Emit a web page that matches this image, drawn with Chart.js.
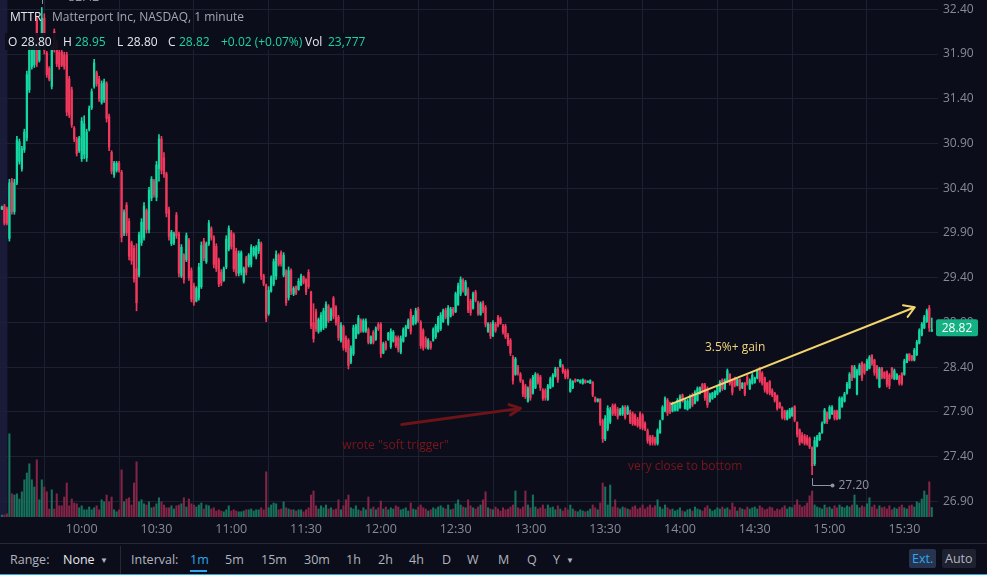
<!DOCTYPE html>
<html>
<head>
<meta charset="utf-8">
<script src="https://cdn.jsdelivr.net/npm/chart.js@4.4.1/dist/chart.umd.min.js"></script>
<style>
  html, body { margin: 0; padding: 0; background: #0b0e1a; overflow: hidden; }
  body { width: 987px; height: 575px; position: relative; font-family: 'Open Sans', sans-serif; }
  #chart { position: absolute; left: 0; top: 0; }
  .hdr span { position: absolute; font-size: 12px; white-space: nowrap; line-height: 18px; color: #e6e8ee; }
  .hdr1 span { top: 8px; }
  .hdr1 .desc { color: #a3a6b4; }
  .hdr2 span { top: 33px; }
  .hdr2 .g { color: #1fd3a3; }
  .hdr2 .bg { left: 5px; width: 364px; height: 17px; top: 33px; background: rgba(11, 14, 26, 0.92); }
  .toolbar { position: absolute; left: 0; top: 543px; width: 987px; height: 32px; border-top: 1px solid #262a38; box-sizing: border-box; font-size: 12.5px; color: #b2b5be; }
  .toolbar span { position: absolute; top: 7px; line-height: 18px; }
  .toolbar .sel { color: #2ea8f0; }
  .toolbar .w { color: #e6e8ee; }
  .toolbar .sep { position: absolute; left: 120px; top: 2px; width: 1px; height: 30px; background: #262a38; }
  .toolbar .ul { position: absolute; left: 190px; top: 26px; width: 17px; height: 2px; background: #2ea8f0; }
  .toolbar .btn { top: 5px; height: 19px; padding: 0 3px; border-radius: 2px; line-height: 19px; }
  .toolbar .bottom { position: absolute; left: 0; top: 30px; width: 987px; height: 2px; background: #2fa6d8; }
  .caret { font-size: 8px; }
</style>
</head>
<body>
<canvas id="chart" width="987" height="543"></canvas>

<div class="hdr hdr1">
  <span style="left:10px">MTTR</span>
  <span class="desc" style="left:52px">Matterport Inc, NASDAQ, 1 minute</span>
</div>
<div class="hdr hdr2">
  <span class="bg"></span>
  <span style="left:8px">O</span><span style="left:21px">28.80</span>
  <span style="left:63px">H</span><span class="g" style="left:75px">28.95</span>
  <span style="left:117px">L</span><span style="left:127px">28.80</span>
  <span style="left:168px">C</span><span class="g" style="left:179px">28.82</span>
  <span class="g" style="left:221px">+0.02 (+0.07%)</span>
  <span style="left:305px">Vol</span><span class="g" style="left:328px">23,777</span>
</div>

<div class="toolbar">
  <span style="left:10px">Range:</span>
  <span class="w" style="left:63px">None</span>
  <span class="caret" style="left:100px">&#9660;</span>
  <div class="sep"></div>
  <span style="left:131px">Interval:</span>
  <span class="sel" style="left:190px">1m</span>
  <div class="ul"></div>
  <span style="left:225px">5m</span>
  <span style="left:261px">15m</span>
  <span style="left:304px">30m</span>
  <span style="left:346px">1h</span>
  <span style="left:378px">2h</span>
  <span style="left:409px">4h</span>
  <span style="left:442px">D</span>
  <span style="left:467px">W</span>
  <span style="left:498px">M</span>
  <span style="left:527px">Q</span>
  <span style="left:553px">Y</span>
  <span class="caret" style="left:566px">&#9660;</span>
  <span class="btn sel" style="left:909px; background:#26344f">Ext.</span>
  <span class="btn" style="left:942px; background:#1d2130">Auto</span>
  <div class="bottom"></div>
</div>

<script>
// минуты от 9:30, первая свеча — 9:28 (премаркет)
const firstMinute = -2;
const sessionOpen = 0;

// ось времени
const tickMinutes = [30, 60, 90, 120, 150, 180, 210, 240, 270, 300, 330, 360];
const tickLabels = ['10:00', '10:30', '11:00', '11:30', '12:00', '12:30', '13:00', '13:30', '14:00', '14:30', '15:00', '15:30'];

// ось цены
const priceTicks = [26.9, 27.4, 27.9, 28.4, 28.9, 29.4, 29.9, 30.4, 30.9, 31.4, 31.9, 32.4];
const lastPrice = 28.82;

const opens = [
  30.17, 30.20, 30.17, 29.84, 30.48, 30.14, 30.46, 30.70, 30.62, 30.83,
  30.96, 31.50, 31.76, 31.78, 32.28, 31.83, 32.05, 32.30, 31.91, 31.74,
  31.54, 32.15, 32.02, 31.92, 31.92, 31.89, 31.89, 31.62, 31.50, 31.07,
  30.95, 30.82, 30.73, 30.78, 30.74, 31.06, 31.30, 31.54, 31.69, 31.62,
  31.36, 31.39, 31.57, 31.20, 30.80, 30.55, 30.60, 30.68, 30.58, 29.90,
  30.21, 30.03, 29.79, 29.73, 29.50, 29.43, 29.79, 29.85, 30.15, 29.94,
  30.29, 30.48, 30.30, 30.62, 30.95, 30.74, 30.56, 30.16, 29.78, 29.79,
  30.10, 29.89, 29.42, 29.65, 29.60, 29.82, 29.48, 29.31, 29.14, 29.18,
  29.30, 29.81, 29.58, 29.78, 29.95, 29.85, 29.75, 29.60, 29.46, 29.37,
  29.52, 29.72, 29.91, 29.88, 29.70, 29.45, 29.46, 29.36, 29.62, 29.54,
  29.55, 29.66, 29.64, 29.70, 29.78, 29.42, 29.31, 29.00, 29.25, 29.33,
  29.42, 29.65, 29.68, 29.43, 29.47, 29.18, 29.48, 29.22, 29.30, 29.27,
  29.32, 29.41, 29.38, 29.46, 29.24, 28.90, 29.02, 28.80, 28.82, 28.84,
  28.86, 29.08, 28.93, 29.17, 29.07, 28.96, 28.70, 28.85, 28.73, 28.70,
  28.46, 28.55, 28.73, 28.78, 28.92, 28.80, 28.81, 28.82, 28.67, 28.79,
  28.71, 28.88, 28.88, 28.56, 28.67, 28.71, 28.63, 28.69, 28.73, 28.73,
  28.57, 28.69, 28.75, 28.84, 29.02, 28.88, 28.90, 29.05, 28.90, 28.81,
  28.72, 28.61, 28.67, 28.70, 28.74, 28.80, 28.83, 28.91, 29.04, 28.89,
  28.97, 29.05, 29.02, 29.10, 29.22, 29.37, 29.21, 29.27, 29.14, 29.06,
  29.24, 29.12, 28.99, 29.12, 29.07, 28.80, 28.88, 28.75, 28.88, 28.96,
  28.94, 28.86, 28.86, 28.76, 28.70, 28.51, 28.32, 28.40, 28.32, 28.24,
  28.19, 28.02, 28.25, 28.11, 28.17, 28.31, 28.29, 28.14, 28.14, 28.04,
  28.17, 28.19, 28.30, 28.38, 28.41, 28.41, 28.36, 28.36, 28.13, 28.17,
  28.26, 28.25, 28.23, 28.22, 28.25, 28.23, 28.22, 28.23, 28.06, 28.02,
  28.04, 27.80, 27.60, 27.71, 27.79, 27.97, 27.97, 27.93, 27.87, 27.88,
  27.95, 27.88, 27.90, 27.88, 27.86, 27.82, 27.88, 27.86, 27.77, 27.69,
  27.62, 27.62, 27.60, 27.55, 27.67, 27.82, 27.91, 28.03, 28.00, 27.91,
  27.92, 27.92, 27.95, 28.09, 27.94, 27.93, 27.95, 28.09, 28.00, 28.03,
  28.11, 28.21, 28.20, 28.16, 28.02, 28.05, 28.07, 28.10, 28.13, 28.26,
  28.16, 28.24, 28.32, 28.26, 28.28, 28.20, 28.26, 28.17, 28.22, 28.29,
  28.16, 28.22, 28.23, 28.28, 28.39, 28.33, 28.28, 28.22, 28.24, 28.14,
  28.11, 28.08, 28.00, 27.95, 27.91, 27.82, 27.84, 27.86, 27.96, 27.78,
  27.70, 27.64, 27.63, 27.61, 27.60, 27.50, 27.32, 27.52, 27.59, 27.67,
  27.78, 27.89, 27.83, 27.88, 27.91, 27.91, 27.83, 27.96, 28.02, 28.11,
  28.17, 28.41, 28.29, 28.10, 28.32, 28.45, 28.43, 28.37, 28.39, 28.53,
  28.48, 28.41, 28.18, 28.39, 28.34, 28.35, 28.31, 28.39, 28.27, 28.27,
  28.30, 28.33, 28.32, 28.45, 28.55, 28.53, 28.48, 28.54, 28.67, 28.76,
  28.84, 28.91, 29.06, 28.80
];

const highs = [
  30.20, 30.22, 30.19, 30.50, 30.51, 30.50, 30.98, 30.95, 30.87, 31.06,
  31.71, 32.01, 32.01, 32.04, 32.32, 32.03, 32.42, 32.35, 31.93, 31.76,
  31.99, 32.18, 32.05, 31.95, 31.95, 31.92, 31.92, 31.65, 31.53, 31.09,
  30.97, 30.98, 31.19, 31.21, 31.06, 31.32, 31.51, 31.84, 31.71, 31.65,
  31.60, 31.62, 31.59, 31.23, 30.82, 30.70, 30.70, 30.70, 30.60, 30.16,
  30.24, 30.06, 29.81, 29.76, 29.78, 29.91, 30.06, 30.24, 30.17, 30.41,
  30.53, 30.50, 30.70, 31.00, 30.98, 30.80, 30.58, 30.19, 29.93, 29.91,
  30.13, 29.91, 29.77, 29.67, 29.90, 29.84, 29.51, 29.34, 29.30, 29.56,
  29.80, 29.84, 29.80, 30.04, 29.97, 29.87, 29.78, 29.62, 29.49, 29.52,
  29.87, 29.98, 29.93, 29.90, 29.73, 29.70, 29.70, 29.52, 29.64, 29.67,
  29.77, 29.75, 29.76, 29.83, 29.80, 29.44, 29.33, 29.30, 29.42, 29.61,
  29.70, 29.67, 29.70, 29.68, 29.49, 29.52, 29.50, 29.30, 29.31, 29.39,
  29.44, 29.42, 29.39, 29.49, 29.25, 29.11, 29.05, 28.95, 29.01, 29.06,
  29.13, 29.10, 29.06, 29.19, 29.09, 28.98, 28.90, 28.87, 28.75, 28.72,
  28.64, 28.87, 28.88, 28.98, 28.94, 28.94, 28.94, 28.84, 28.75, 28.81,
  28.85, 28.90, 28.90, 28.68, 28.69, 28.79, 28.83, 28.81, 28.75, 28.75,
  28.75, 28.84, 28.87, 28.94, 29.05, 28.98, 29.06, 29.07, 28.92, 28.83,
  28.74, 28.72, 28.69, 28.84, 28.88, 28.97, 29.01, 29.05, 29.06, 29.09,
  29.07, 29.07, 29.24, 29.34, 29.41, 29.39, 29.37, 29.29, 29.16, 29.24,
  29.26, 29.14, 29.13, 29.14, 29.09, 28.90, 28.90, 28.92, 28.90, 28.98,
  28.96, 28.88, 28.88, 28.78, 28.72, 28.53, 28.51, 28.42, 28.34, 28.26,
  28.21, 28.18, 28.27, 28.31, 28.34, 28.33, 28.31, 28.16, 28.16, 28.21,
  28.29, 28.33, 28.40, 28.40, 28.49, 28.43, 28.38, 28.38, 28.27, 28.25,
  28.27, 28.26, 28.26, 28.27, 28.26, 28.25, 28.26, 28.24, 28.07, 28.05,
  28.05, 27.82, 27.86, 27.97, 27.95, 27.99, 27.99, 27.95, 27.94, 27.97,
  27.97, 27.97, 27.92, 27.90, 27.88, 27.84, 27.90, 27.88, 27.79, 27.71,
  27.64, 27.64, 27.62, 27.71, 27.81, 27.97, 28.07, 28.05, 28.01, 28.01,
  28.00, 28.05, 28.09, 28.10, 28.05, 28.04, 28.09, 28.11, 28.14, 28.18,
  28.18, 28.22, 28.22, 28.18, 28.11, 28.12, 28.14, 28.20, 28.25, 28.27,
  28.27, 28.38, 28.33, 28.27, 28.29, 28.27, 28.27, 28.23, 28.23, 28.31,
  28.27, 28.33, 28.29, 28.38, 28.40, 28.35, 28.29, 28.23, 28.25, 28.16,
  28.12, 28.09, 28.01, 27.96, 27.92, 27.92, 27.94, 27.95, 27.97, 27.79,
  27.71, 27.67, 27.65, 27.64, 27.62, 27.51, 27.62, 27.64, 27.67, 27.79,
  27.94, 27.90, 27.97, 27.97, 27.92, 27.92, 28.07, 28.07, 28.12, 28.23,
  28.34, 28.42, 28.42, 28.38, 28.44, 28.46, 28.44, 28.49, 28.53, 28.54,
  28.49, 28.42, 28.40, 28.40, 28.35, 28.36, 28.33, 28.40, 28.38, 28.33,
  28.31, 28.34, 28.49, 28.55, 28.55, 28.53, 28.61, 28.70, 28.83, 28.90,
  28.98, 29.05, 29.09, 28.95
];

const lows = [
  30.16, 29.99, 29.99, 29.81, 30.11, 30.11, 30.44, 30.67, 30.59, 30.80,
  30.93, 31.47, 31.73, 31.75, 31.76, 31.81, 32.02, 31.90, 31.64, 31.60,
  31.51, 31.92, 31.76, 31.73, 31.76, 31.73, 31.21, 31.19, 31.08, 30.92,
  30.76, 30.80, 30.70, 30.73, 30.70, 31.04, 31.28, 31.52, 31.54, 31.37,
  31.34, 31.36, 31.14, 30.82, 30.56, 30.52, 30.58, 30.58, 29.80, 29.87,
  29.87, 29.60, 29.55, 29.35, 29.03, 29.41, 29.76, 29.82, 29.90, 29.90,
  30.26, 30.30, 30.26, 30.48, 30.56, 30.52, 30.08, 29.82, 29.76, 29.77,
  29.84, 29.41, 29.40, 29.34, 29.58, 29.37, 29.13, 29.09, 29.13, 29.15,
  29.28, 29.59, 29.56, 29.76, 29.82, 29.51, 29.47, 29.30, 29.31, 29.36,
  29.50, 29.70, 29.72, 29.47, 29.42, 29.42, 29.43, 29.34, 29.43, 29.52,
  29.52, 29.64, 29.61, 29.67, 29.38, 29.31, 28.91, 28.98, 29.24, 29.31,
  29.38, 29.53, 29.53, 29.41, 29.09, 29.15, 29.21, 29.20, 29.21, 29.26,
  29.31, 29.33, 29.21, 29.28, 28.83, 28.68, 28.80, 28.78, 28.80, 28.82,
  28.84, 28.90, 28.92, 28.94, 28.87, 28.70, 28.68, 28.59, 28.57, 28.38,
  28.44, 28.53, 28.72, 28.77, 28.79, 28.79, 28.79, 28.66, 28.66, 28.66,
  28.70, 28.81, 28.51, 28.55, 28.59, 28.70, 28.61, 28.68, 28.62, 28.57,
  28.55, 28.68, 28.74, 28.83, 28.77, 28.87, 28.88, 28.90, 28.61, 28.59,
  28.61, 28.60, 28.60, 28.69, 28.72, 28.79, 28.81, 28.90, 28.94, 28.87,
  28.96, 28.98, 29.01, 29.09, 29.20, 29.24, 29.20, 29.01, 28.98, 29.05,
  29.13, 28.98, 28.98, 29.01, 28.85, 28.79, 28.72, 28.74, 28.79, 28.85,
  28.88, 28.77, 28.72, 28.64, 28.53, 28.21, 28.31, 28.31, 28.23, 28.07,
  28.05, 28.01, 28.03, 28.10, 28.16, 28.21, 28.14, 28.03, 28.03, 28.03,
  28.16, 28.18, 28.29, 28.23, 28.40, 28.33, 28.27, 28.27, 28.12, 28.16,
  28.23, 28.24, 28.22, 28.21, 28.22, 28.23, 28.22, 28.07, 28.01, 28.01,
  27.75, 27.56, 27.58, 27.69, 27.77, 27.86, 27.86, 27.82, 27.86, 27.86,
  27.82, 27.87, 27.77, 27.75, 27.75, 27.73, 27.71, 27.70, 27.69, 27.55,
  27.53, 27.53, 27.53, 27.53, 27.66, 27.81, 27.90, 27.86, 27.88, 27.90,
  27.91, 27.91, 27.94, 28.01, 27.93, 27.92, 27.94, 27.96, 27.99, 28.02,
  28.10, 28.12, 28.03, 27.95, 28.01, 28.04, 28.06, 28.09, 28.12, 28.14,
  28.15, 28.23, 28.20, 28.09, 28.18, 28.19, 28.14, 28.16, 28.08, 28.20,
  28.15, 28.21, 28.22, 28.27, 28.23, 28.20, 28.12, 28.10, 28.09, 28.07,
  28.01, 27.92, 27.94, 27.82, 27.81, 27.81, 27.83, 27.85, 27.79, 27.62,
  27.53, 27.55, 27.53, 27.53, 27.49, 27.20, 27.30, 27.51, 27.58, 27.66,
  27.77, 27.77, 27.82, 27.87, 27.81, 27.81, 27.82, 27.95, 28.01, 28.10,
  28.16, 28.25, 28.28, 28.09, 28.31, 28.25, 28.32, 28.36, 28.38, 28.42,
  28.31, 28.27, 28.17, 28.27, 28.27, 28.18, 28.16, 28.27, 28.26, 28.26,
  28.20, 28.20, 28.31, 28.45, 28.47, 28.47, 28.47, 28.53, 28.66, 28.75,
  28.83, 28.90, 28.80, 28.80
];

const closes = [
  30.19, 30.01, 30.01, 30.46, 30.14, 30.46, 30.94, 30.92, 30.84, 31.03,
  31.67, 31.97, 31.98, 32.01, 31.80, 32.00, 32.30, 31.94, 31.67, 31.62,
  31.95, 31.95, 31.79, 31.76, 31.78, 31.76, 31.25, 31.22, 31.11, 30.95,
  30.79, 30.96, 31.15, 31.12, 31.03, 31.29, 31.48, 31.80, 31.57, 31.40,
  31.57, 31.59, 31.18, 30.86, 30.59, 30.68, 30.68, 30.60, 29.85, 30.13,
  29.90, 29.64, 29.59, 29.39, 29.12, 29.88, 30.02, 30.20, 29.94, 30.38,
  30.50, 30.33, 30.66, 30.95, 30.60, 30.56, 30.12, 29.86, 29.91, 29.89,
  29.87, 29.45, 29.74, 29.38, 29.87, 29.40, 29.16, 29.12, 29.28, 29.52,
  29.76, 29.62, 29.78, 30.01, 29.85, 29.55, 29.50, 29.33, 29.34, 29.50,
  29.83, 29.95, 29.75, 29.50, 29.45, 29.67, 29.68, 29.50, 29.46, 29.65,
  29.74, 29.73, 29.74, 29.80, 29.42, 29.33, 28.95, 29.26, 29.40, 29.58,
  29.66, 29.55, 29.56, 29.65, 29.12, 29.48, 29.25, 29.28, 29.23, 29.36,
  29.42, 29.35, 29.24, 29.30, 28.86, 28.72, 28.83, 28.93, 28.98, 29.03,
  29.10, 28.92, 29.04, 28.97, 28.90, 28.73, 28.87, 28.62, 28.60, 28.42,
  28.61, 28.84, 28.86, 28.95, 28.81, 28.92, 28.91, 28.68, 28.74, 28.68,
  28.83, 28.83, 28.55, 28.66, 28.61, 28.78, 28.80, 28.79, 28.64, 28.60,
  28.72, 28.82, 28.85, 28.92, 28.80, 28.96, 29.03, 28.92, 28.64, 28.62,
  28.63, 28.70, 28.62, 28.82, 28.86, 28.95, 28.98, 29.03, 28.96, 29.06,
  29.05, 29.00, 29.22, 29.31, 29.38, 29.26, 29.35, 29.04, 29.01, 29.22,
  29.15, 29.00, 29.11, 29.03, 28.88, 28.88, 28.75, 28.90, 28.81, 28.87,
  28.89, 28.79, 28.74, 28.66, 28.56, 28.25, 28.49, 28.33, 28.25, 28.10,
  28.07, 28.16, 28.06, 28.29, 28.32, 28.23, 28.17, 28.05, 28.06, 28.19,
  28.27, 28.31, 28.38, 28.26, 28.47, 28.35, 28.29, 28.29, 28.25, 28.24,
  28.24, 28.25, 28.25, 28.26, 28.23, 28.24, 28.25, 28.09, 28.02, 28.04,
  27.78, 27.60, 27.83, 27.94, 27.92, 27.88, 27.89, 27.85, 27.92, 27.95,
  27.84, 27.95, 27.79, 27.77, 27.76, 27.75, 27.74, 27.72, 27.71, 27.58,
  27.55, 27.56, 27.55, 27.69, 27.79, 27.95, 28.05, 27.89, 27.90, 27.99,
  27.98, 28.03, 28.07, 28.02, 28.03, 28.02, 28.07, 27.98, 28.12, 28.16,
  28.17, 28.14, 28.06, 27.98, 28.09, 28.11, 28.13, 28.18, 28.23, 28.16,
  28.25, 28.36, 28.22, 28.12, 28.20, 28.26, 28.16, 28.22, 28.10, 28.22,
  28.25, 28.31, 28.28, 28.36, 28.25, 28.22, 28.15, 28.12, 28.11, 28.09,
  28.03, 27.94, 27.95, 27.84, 27.83, 27.90, 27.92, 27.94, 27.81, 27.65,
  27.56, 27.57, 27.55, 27.55, 27.51, 27.30, 27.58, 27.62, 27.66, 27.77,
  27.92, 27.79, 27.95, 27.95, 27.83, 27.82, 28.05, 28.05, 28.10, 28.21,
  28.32, 28.28, 28.40, 28.36, 28.42, 28.28, 28.34, 28.47, 28.51, 28.44,
  28.34, 28.29, 28.38, 28.29, 28.28, 28.21, 28.19, 28.29, 28.36, 28.32,
  28.22, 28.22, 28.47, 28.54, 28.48, 28.48, 28.59, 28.68, 28.81, 28.88,
  28.96, 29.03, 28.84, 28.82
];

// объём, тыс. акций
const volumes = [
  5, 5, 8, 208, 58, 55, 58, 45, 63, 93,
  110, 133, 93, 75, 143, 43, 93, 75, 63, 20,
  68, 20, 58, 28, 28, 50, 85, 28, 45, 35,
  33, 23, 28, 18, 18, 25, 18, 23, 28, 18,
  43, 38, 55, 38, 50, 18, 13, 18, 118, 38,
  45, 48, 30, 85, 138, 38, 43, 33, 30, 38,
  23, 25, 33, 48, 38, 30, 23, 23, 28, 20,
  28, 30, 33, 48, 25, 45, 33, 30, 25, 30,
  35, 20, 30, 28, 20, 23, 15, 18, 15, 13,
  18, 28, 15, 18, 15, 13, 13, 15, 18, 18,
  20, 15, 18, 18, 23, 18, 113, 23, 30, 35,
  33, 18, 20, 38, 23, 20, 18, 18, 15, 18,
  18, 13, 18, 23, 55, 65, 28, 20, 28, 23,
  30, 20, 23, 18, 20, 43, 18, 28, 43, 55,
  23, 20, 28, 18, 15, 23, 18, 50, 20, 25,
  18, 23, 40, 20, 25, 18, 23, 20, 28, 25,
  18, 20, 23, 15, 35, 20, 18, 25, 30, 23,
  20, 15, 18, 23, 20, 25, 28, 23, 20, 30,
  18, 20, 33, 43, 30, 25, 23, 43, 28, 23,
  20, 25, 30, 43, 63, 23, 20, 18, 25, 20,
  15, 23, 18, 20, 25, 30, 65, 23, 20, 25,
  65, 30, 23, 55, 25, 20, 23, 30, 20, 30,
  23, 25, 18, 28, 20, 15, 23, 18, 30, 20,
  15, 13, 18, 15, 13, 15, 20, 30, 23, 18,
  35, 85, 75, 30, 80, 25, 43, 23, 20, 25,
  23, 20, 18, 25, 28, 20, 23, 30, 20, 25,
  30, 23, 28, 43, 25, 20, 30, 23, 18, 20,
  15, 18, 23, 15, 13, 18, 20, 15, 25, 20,
  18, 15, 23, 28, 20, 15, 18, 23, 20, 25,
  20, 23, 18, 35, 25, 15, 23, 20, 18, 25,
  20, 23, 25, 20, 28, 23, 18, 20, 25, 23,
  15, 20, 18, 23, 28, 20, 25, 23, 30, 43,
  30, 25, 28, 35, 53, 65, 30, 25, 23, 20,
  30, 23, 25, 20, 28, 23, 30, 25, 23, 28,
  25, 30, 55, 30, 23, 28, 25, 33, 48, 25,
  30, 20, 28, 23, 25, 20, 28, 18, 23, 20,
  25, 30, 23, 20, 28, 30, 25, 38, 35, 45,
  65, 55, 88, 23.777
];

// подписи на графике: [минута, цена]
const triggerArrow = [[158.4, 27.76], [206.0, 27.94]];
const triggerNote = { text: 'wrote "soft trigger"', at: [155.9, 27.52] };
const bottomNote = { text: 'very close to bottom', at: [272.1, 27.29] };
const gainArrow = [[266.6, 27.99], [364.2, 29.07]];
const gainNote = { text: '3.5%+ gain', at: [292.1, 28.62] };

const upColor = '#14d8a2';
const downColor = '#f2385d';
const upVol = '#16725c';
const downVol = '#842446';
const textGray = '#878b99';
const gridColor = '#1c2030';

const isUp = closes.map((c, i) => c >= opens[i]);
const xOf = i => firstMinute + i;

function drawArrow(ctx, p0, p1, color, width, head, spread) {
  const ang = Math.atan2(p1.y - p0.y, p1.x - p0.x);
  ctx.strokeStyle = color;
  ctx.lineWidth = width;
  ctx.lineCap = 'round';
  ctx.lineJoin = 'round';
  ctx.beginPath();
  ctx.moveTo(p0.x, p0.y);
  ctx.lineTo(p1.x, p1.y);
  ctx.moveTo(p1.x - head * Math.cos(ang - spread), p1.y - head * Math.sin(ang - spread));
  ctx.lineTo(p1.x, p1.y);
  ctx.lineTo(p1.x - head * Math.cos(ang + spread), p1.y - head * Math.sin(ang + spread));
  ctx.stroke();
}

const overlay = {
  id: 'overlay',
  beforeDraw(chart) {
    const { ctx, chartArea: a, scales: { x } } = chart;
    ctx.save();
    ctx.fillStyle = '#0b0e1a';
    ctx.fillRect(0, 0, chart.width, chart.height);
    // премаркет
    ctx.fillStyle = '#191b39';
    ctx.fillRect(a.left, a.top, x.getPixelForValue(sessionOpen + 0.2) - a.left, a.bottom - a.top);
    ctx.restore();
  },
  afterDatasetsDraw(chart) {
    const { ctx, scales: { x, y } } = chart;
    const pt = ([m, p]) => ({ x: x.getPixelForValue(m), y: y.getPixelForValue(p) });
    ctx.save();

    drawArrow(ctx, pt(triggerArrow[0]), pt(triggerArrow[1]), '#6e1318', 3, 12, 0.45);
    drawArrow(ctx, pt(gainArrow[0]), pt(gainArrow[1]), '#f4d46c', 2, 12, 0.55);

    ctx.font = "12px 'Open Sans'";
    ctx.textAlign = 'center';
    ctx.textBaseline = 'middle';
    [[triggerNote, '#7a161c'], [bottomNote, '#7a161c'], [gainNote, '#f4d57a']].forEach(([n, c]) => {
      const p = pt(n.at);
      ctx.fillStyle = c;
      ctx.fillText(n.text, p.x, p.y);
    });

    // отметки максимума и минимума
    let hi = 0, lo = 0;
    highs.forEach((v, i) => { if (v > highs[hi]) hi = i; });
    lows.forEach((v, i) => { if (v < lows[lo]) lo = i; });
    ctx.strokeStyle = '#8f93a2';
    ctx.fillStyle = '#8f93a2';
    ctx.lineWidth = 1;
    ctx.font = "12px 'Open Sans'";
    ctx.textAlign = 'left';
    [[hi, highs[hi], -1], [lo, lows[lo], 1]].forEach(([i, v, dir]) => {
      const px = Math.round(x.getPixelForValue(xOf(i))) + 0.5;
      const py = y.getPixelForValue(v);
      const yEnd = Math.round(py + dir * 10.5) + 0.5;
      ctx.beginPath();
      ctx.moveTo(px, py + dir * 4);
      ctx.lineTo(px, yEnd);
      ctx.lineTo(px + 20, yEnd);
      ctx.stroke();
      ctx.beginPath();
      ctx.arc(px + 20, yEnd, 2, 0, Math.PI * 2);
      ctx.fill();
      ctx.fillText(v.toFixed(2), px + 26, yEnd);
    });
    ctx.restore();
  },
  afterDraw(chart) {
    const { ctx, chartArea: a, scales: { y } } = chart;
    const py = y.getPixelForValue(lastPrice) - 2;
    ctx.save();
    ctx.fillStyle = '#13b183';
    ctx.beginPath();
    ctx.roundRect(a.right - 2, py - 8.5, 42, 17, 2);
    ctx.fill();
    ctx.fillStyle = '#ffffff';
    ctx.font = "12px 'Open Sans'";
    ctx.textAlign = 'center';
    ctx.textBaseline = 'middle';
    ctx.fillText(lastPrice.toFixed(2), a.right + 19, py + 0.5);
    ctx.restore();
  }
};

Chart.defaults.font.family = "'Open Sans', sans-serif";

new Chart(document.getElementById('chart'), {
  type: 'bar',
  data: {
    datasets: [
      {
        label: 'body',
        data: opens.map((o, i) => ({ x: xOf(i), y: [o, closes[i]] })),
        backgroundColor: isUp.map(u => (u ? upColor : downColor)),
        barThickness: 1.6,
        minBarLength: 1,
        grouped: false,
        yAxisID: 'y',
        order: 0
      },
      {
        label: 'wick',
        data: lows.map((l, i) => ({ x: xOf(i), y: [l, highs[i]] })),
        backgroundColor: isUp.map(u => (u ? upColor : downColor)),
        barThickness: 1,
        minBarLength: 1,
        grouped: false,
        yAxisID: 'y',
        order: 1
      },
      {
        label: 'volume',
        data: volumes.map((v, i) => ({ x: xOf(i), y: v })),
        backgroundColor: isUp.map(u => (u ? upVol : downVol)),
        barThickness: 1.4,
        grouped: false,
        yAxisID: 'vol',
        order: 2
      }
    ]
  },
  options: {
    responsive: false,
    animation: false,
    events: [],
    layout: { padding: 0 },
    scales: {
      x: {
        type: 'linear',
        offset: false,
        min: -2.77,
        max: 373.5,
        afterBuildTicks: s => { s.ticks = tickMinutes.map(v => ({ value: v })); },
        afterFit: s => { s.height = 26; s.paddingLeft = 0; s.paddingRight = 0; },
        ticks: {
          autoSkip: false,
          maxRotation: 0,
          padding: 5,
          color: textGray,
          font: { size: 12.5 },
          callback: v => tickLabels[tickMinutes.indexOf(v)]
        },
        grid: { color: gridColor, lineWidth: 1, drawTicks: false },
        border: { display: false }
      },
      y: {
        position: 'right',
        min: 26.726,
        max: 32.504,
        afterBuildTicks: s => { s.ticks = priceTicks.map(v => ({ value: v })); },
        afterFit: s => { s.width = 49; s.paddingTop = 0; s.paddingBottom = 0; },
        ticks: {
          padding: 5,
          color: textGray,
          font: { size: 12 },
          callback: v => v.toFixed(2)
        },
        grid: { color: gridColor, lineWidth: 1, drawTicks: false },
        border: { display: false }
      },
      vol: {
        display: false,
        min: 0,
        max: 1292.5
      }
    },
    plugins: {
      legend: { display: false },
      tooltip: { enabled: false }
    }
  },
  plugins: [overlay]
});
</script>
</body>
</html>
